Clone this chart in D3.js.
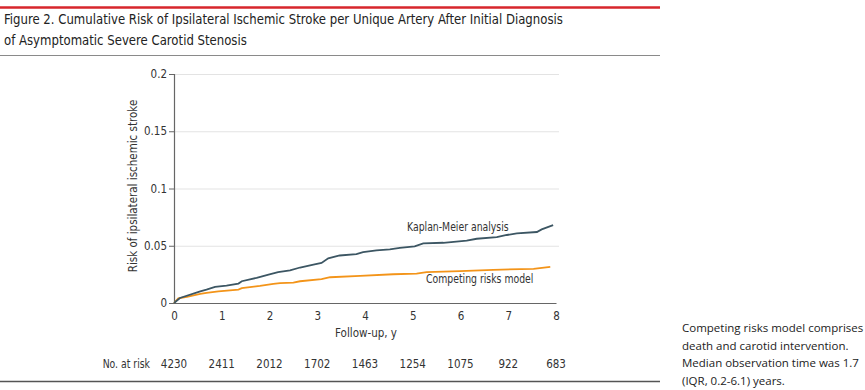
<!DOCTYPE html>
<html><head><meta charset="utf-8">
<script src="https://cdn.jsdelivr.net/npm/d3@7"></script>
<style>
body{margin:0;background:#fff;}
svg{display:block;}
.cond{font-family:"Liberation Sans Narrow","DejaVu Sans Condensed","Arial Narrow",sans-serif;}
</style></head>
<body><svg id="c" width="865" height="390"></svg>
<script>
const titleLines = ["Figure 2. Cumulative Risk of Ipsilateral Ischemic Stroke per Unique Artery After Initial Diagnosis","of Asymptomatic Severe Carotid Stenosis"];
const xTicks = [0,1,2,3,4,5,6,7,8];
const yTicks = [0,0.05,0.1,0.15,0.2];
const yTickLabels = ["0","0.05","0.1","0.15","0.2"];
const atRisk = [4230,2411,2012,1702,1463,1254,1075,922,683];
const kmYears = [0,0.125,0.55,0.68,0.86,1.1,1.35,1.42,1.73,2.0,2.18,2.43,2.64,2.92,3.09,3.23,3.47,3.82,3.96,4.24,4.52,4.73,5.04,5.22,5.64,6.13,6.34,6.76,6.97,7.18,7.6,7.7,7.94];
const kmRisk = [0,0.0044,0.0102,0.0117,0.014,0.0152,0.017,0.019,0.022,0.0249,0.027,0.0284,0.031,0.0336,0.035,0.039,0.0415,0.0427,0.0444,0.0459,0.0468,0.0482,0.0494,0.052,0.0526,0.0544,0.0561,0.0576,0.0594,0.0608,0.062,0.0643,0.068];
const crYears = [0,0.09,0.27,0.55,0.68,0.93,1.35,1.42,1.8,2.08,2.22,2.5,2.64,3.09,3.27,3.9,4.59,5.08,5.29,5.99,6.69,7.53,7.88];
const crRisk = [0,0.0041,0.0053,0.0079,0.0088,0.0102,0.0117,0.0129,0.0149,0.0167,0.0173,0.0178,0.019,0.0208,0.0225,0.0237,0.0251,0.0257,0.0269,0.0278,0.029,0.0298,0.0316];
const noteLines = ["Competing risks model comprises","death and carotid intervention.","Median observation time was 1.7","(IQR, 0.2-6.1) years."];

const svg = d3.select("#c");
const textCol = "#333";
function condense(sel, f){
  sel.each(function(){
    const len = this.getComputedTextLength();
    if(len>0){ d3.select(this).attr("textLength", len*f).attr("lengthAdjust","spacingAndGlyphs"); }
  });
}
svg.append("line").attr("x1",0).attr("x2",660).attr("y1",7.5).attr("y2",7.5).attr("stroke","#d7262c").attr("stroke-width",2.5);
svg.append("line").attr("x1",0).attr("x2",660).attr("y1",55.5).attr("y2",55.5).attr("stroke","#8a8a8a").attr("stroke-width",1);
svg.append("line").attr("x1",0).attr("x2",660).attr("y1",381.5).attr("y2",381.5).attr("stroke","#555").attr("stroke-width",1.5);

const titles = svg.append("g").selectAll("text").data(titleLines).join("text").attr("class","cond")
  .attr("x",4).attr("y",(d,i)=>24+i*21).attr("font-size",14).attr("fill","#222").text(d=>d);
condense(titles, 0.93);

const x = d3.scaleLinear().domain([0,8]).range([174,556]);
const y = d3.scaleLinear().domain([0,0.2]).range([303,74]);

svg.append("g").selectAll("line").data(yTicks.filter(d=>d>0)).join("line")
  .attr("x1",174).attr("x2",559).attr("y1",d=>y(d)+0.5).attr("y2",d=>y(d)+0.5)
  .attr("stroke","#e3e3e3").attr("stroke-width",1);

const yAxis = d3.axisLeft(y).tickValues(yTicks).tickFormat((d,i)=>yTickLabels[i]).tickSize(5).tickPadding(2);
const gy = svg.append("g").attr("transform","translate(174,0)").call(yAxis);
gy.select(".domain").attr("stroke","#666").attr("stroke-width",1.2);
gy.selectAll(".tick line").attr("stroke","#666");
gy.selectAll("text").attr("class","cond").attr("font-size",11.5).attr("fill",textCol);

const xAxis = d3.axisBottom(x).tickValues(xTicks).tickSize(0).tickPadding(9);
const gx = svg.append("g").attr("transform","translate(0,303)").call(xAxis);
gx.select(".domain").attr("stroke","#666").attr("stroke-width",1.2);
gx.selectAll("text").attr("class","cond").attr("font-size",11.5).attr("fill",textCol);

svg.append("text").attr("class","cond").attr("x",366).attr("y",337).attr("text-anchor","middle").attr("font-size",11.5).attr("fill",textCol).text("Follow-up, y");
svg.append("text").attr("class","cond").attr("transform","translate(137,186) rotate(-90)").attr("text-anchor","middle").attr("font-size",11.5).attr("fill",textCol).text("Risk of ipsilateral ischemic stroke");

const nr = svg.append("text").attr("class","cond").attr("x",150).attr("y",368).attr("text-anchor","end").attr("font-size",11.5).attr("fill",textCol).text("No. at risk");
condense(nr, 0.9);
svg.append("g").selectAll("text").data(atRisk).join("text").attr("class","cond")
  .attr("x",(d,i)=>x(xTicks[i])).attr("y",368).attr("text-anchor","middle").attr("font-size",11.5).attr("fill",textCol).text(d=>d);

const line = d3.line().x(d=>x(d[0])).y(d=>y(d[1]));
svg.append("path").datum(crYears.map((v,i)=>[v,crRisk[i]])).attr("d",line).attr("fill","none").attr("stroke","#f39419").attr("stroke-width",1.8);
svg.append("path").datum(kmYears.map((v,i)=>[v,kmRisk[i]])).attr("d",line).attr("fill","none").attr("stroke","#3c5663").attr("stroke-width",1.8);

const l1 = svg.append("text").attr("class","cond").attr("x",407).attr("y",231).attr("font-size",11.5).attr("fill",textCol).text("Kaplan-Meier analysis");
const l2 = svg.append("text").attr("class","cond").attr("x",426).attr("y",283).attr("font-size",11.5).attr("fill",textCol).text("Competing risks model");
condense(l1, 0.9); condense(l2, 0.9);

noteLines.forEach((t,i)=>{
  svg.append("text").attr("x",682).attr("y",332+i*17.5).attr("font-family","'Open Sans','Noto Sans',sans-serif").attr("font-size",11.5).attr("fill","#222").text(t);
});
</script></body></html>
